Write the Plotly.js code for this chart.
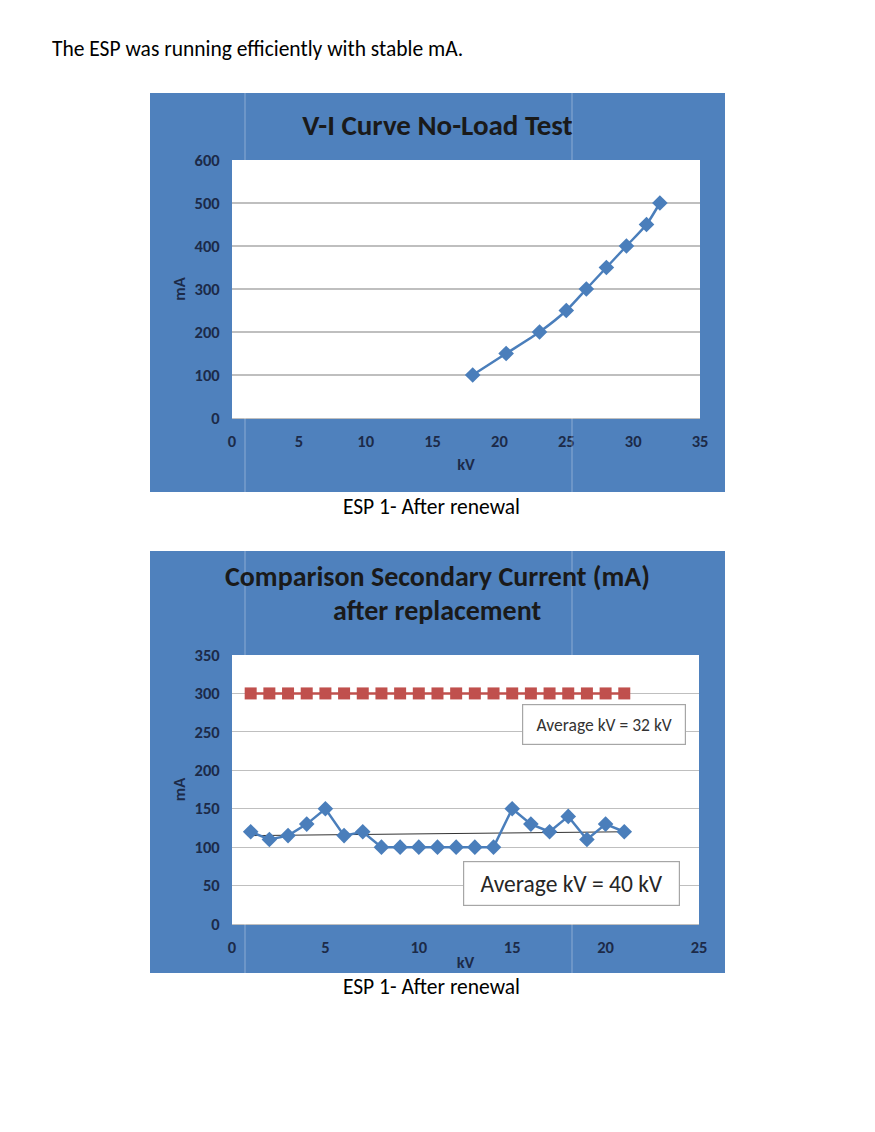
<!DOCTYPE html>
<html>
<head>
<meta charset="utf-8">
<script src="https://cdn.plot.ly/plotly-3.0.1.min.js"></script>
<style>
  html, body { margin: 0; padding: 0; background: #fff; width: 875px; height: 1132px; overflow: hidden; }
  body { position: relative; font-family: Carlito, Calibri, Lato, "Open Sans", sans-serif; color: #000; }
  .txt { position: absolute; font-size: 21.5px; line-height: 26px; white-space: nowrap; }
  #intro { left: 52px; top: 36px; }
  #cap1 { left: 0; width: 863px; text-align: center; top: 494px; }
  #cap2 { left: 0; width: 863px; text-align: center; top: 974px; }
  #c1 { position: absolute; left: 150px; top: 93px; width: 575px; height: 399px; }
  #c2 { position: absolute; left: 150px; top: 551px; width: 575px; height: 422px; }
</style>
</head>
<body>
<div class="txt" id="intro">The ESP was running efficiently with stable mA.</div>
<div id="c1"></div>
<div class="txt" id="cap1">ESP 1- After renewal</div>
<div id="c2"></div>
<div class="txt" id="cap2">ESP 1- After renewal</div>
<script>
// ---- Chart 1 data: V-I Curve No-Load Test ----
const viKV = [18, 20.5, 23, 25, 26.5, 28, 29.5, 31, 32];
const viMA = [100, 150, 200, 250, 300, 350, 400, 450, 500];
const viXTicks = [0, 5, 10, 15, 20, 25, 30, 35];
const viYTicks = [0, 100, 200, 300, 400, 500, 600];

// ---- Chart 2 data: Comparison Secondary Current ----
const cmpX = [1, 2, 3, 4, 5, 6, 7, 8, 9, 10, 11, 12, 13, 14, 15, 16, 17, 18, 19, 20, 21];
const cmpAfter = [120, 110, 115, 130, 150, 115, 120, 100, 100, 100, 100, 100, 100, 100, 150, 130, 120, 140, 110, 130, 120];
const cmpBefore = [300, 300, 300, 300, 300, 300, 300, 300, 300, 300, 300, 300, 300, 300, 300, 300, 300, 300, 300, 300, 300];
const trendX = [1, 21];
const trendY = [115, 120];
const cmpXTicks = [0, 5, 10, 15, 20, 25];
const cmpYTicks = [0, 50, 100, 150, 200, 250, 300, 350];
const cmpTitleLines = ['Comparison Secondary Current (mA)', 'after replacement'];

const FONT = 'Carlito, Calibri, Lato, "Open Sans", sans-serif';
const BG = '#4f81bd';
const LINEBLUE = '#4a7ebb';
const TICKCOL = '#1c2a48';
const GRID = '#bfbfbf';

function seams(t, b, h, l, w) {
  const ph = h - t - b;
  const top = 1 + t / ph, bot = -b / ph;
  const xs = [245 - 150, 572 - 150].map(px => (px - l) / w);
  const out = [];
  xs.forEach(x => {
    out.push({type: 'line', xref: 'paper', yref: 'paper', x0: x, x1: x, y0: 1, y1: top,
              line: {color: 'rgba(255,255,255,0.35)', width: 1}});
    out.push({type: 'line', xref: 'paper', yref: 'paper', x0: x, x1: x, y0: bot, y1: 0,
              line: {color: 'rgba(255,255,255,0.35)', width: 1}});
  });
  return out;
}

function axisCommon() {
  return {
    tickfont: {family: FONT, size: 16.5, color: TICKCOL, weight: 600},
    ticks: 'outside', ticklen: 8, tickcolor: 'rgba(0,0,0,0)',
    zeroline: false, fixedrange: true
  };
}
const AXTITLEFONT = {family: FONT, size: 16.5, color: TICKCOL, weight: 'bold'};

// Chart 1
(function () {
  const W = 575, H = 399, m = {l: 82, r: 25, t: 67, b: 74, pad: 0};
  const pw = W - m.l - m.r;
  const data = [{
    x: viKV, y: viMA, type: 'scatter', mode: 'lines+markers',
    line: {color: LINEBLUE, width: 2.5, shape: 'spline', smoothing: 0.6},
    marker: {symbol: 'diamond', size: 12, color: LINEBLUE},
    hoverinfo: 'skip'
  }];
  const layout = {
    width: W, height: H, margin: m,
    paper_bgcolor: BG, plot_bgcolor: '#ffffff', showlegend: false,
    title: {text: '<b>V-I Curve No-Load Test</b>', font: {family: FONT, size: 29, color: '#1a1a1a'},
            x: 0.5, xanchor: 'center', y: 1 - 32 / H, yanchor: 'middle'},
    xaxis: Object.assign(axisCommon(), {
      range: [0, 35], tickvals: viXTicks, showgrid: false,
      showline: true, linecolor: GRID, linewidth: 1,
      title: {text: 'kV', font: AXTITLEFONT, standoff: 8}
    }),
    yaxis: Object.assign(axisCommon(), {
      range: [0, 600], tickvals: viYTicks, showgrid: true, gridcolor: GRID, gridwidth: 1.2,
      title: {text: 'mA', font: AXTITLEFONT, standoff: 4}
    }),
    shapes: seams(m.t, m.b, H, m.l, pw)
  };
  Plotly.newPlot('c1', data, layout, {displayModeBar: false, staticPlot: true});
})();

// Chart 2
(function () {
  const W = 575, H = 422, m = {l: 82, r: 26, t: 104, b: 49, pad: 0};
  const pw = W - m.l - m.r;
  const ph = H - m.t - m.b;
  const py = yPix => (H - m.b - (yPix - 551)) / ph;   // page y -> paper y
  const data = [
    {
      x: cmpX, y: cmpBefore, type: 'scatter', mode: 'lines+markers',
      line: {color: '#c0504d', width: 2.5},
      marker: {symbol: 'square', size: 12, color: '#c0504d'},
      hoverinfo: 'skip'
    },
    {
      x: trendX, y: trendY, type: 'scatter', mode: 'lines',
      line: {color: '#333333', width: 1},
      hoverinfo: 'skip'
    },
    {
      x: cmpX, y: cmpAfter, type: 'scatter', mode: 'lines+markers',
      line: {color: LINEBLUE, width: 2.5},
      marker: {symbol: 'diamond', size: 12, color: LINEBLUE},
      hoverinfo: 'skip'
    }
  ];
  const titleFont = {family: FONT, size: 28, color: '#1a1a1a', weight: 'bold'};
  const layout = {
    width: W, height: H, margin: m,
    paper_bgcolor: BG, plot_bgcolor: '#ffffff', showlegend: false,
    xaxis: Object.assign(axisCommon(), {
      range: [0, 25], tickvals: cmpXTicks, showgrid: false,
      showline: true, linecolor: GRID, linewidth: 1,
      title: {text: 'kV', font: AXTITLEFONT, standoff: 0}
    }),
    yaxis: Object.assign(axisCommon(), {
      range: [0, 350], tickvals: cmpYTicks, showgrid: true, gridcolor: GRID, gridwidth: 1.2,
      title: {text: 'mA', font: AXTITLEFONT, standoff: 4}
    }),
    annotations: [
      {
        xref: 'paper', yref: 'paper', x: (437 - 232) / pw, y: py(576.5),
        xanchor: 'center', yanchor: 'middle', showarrow: false,
        text: '<b>' + cmpTitleLines[0] + '</b>', font: titleFont
      },
      {
        xref: 'paper', yref: 'paper', x: (437 - 232) / pw, y: py(610.5),
        xanchor: 'center', yanchor: 'middle', showarrow: false,
        text: '<b>' + cmpTitleLines[1] + '</b>', font: titleFont
      },
      {
        xref: 'paper', yref: 'paper',
        x: (604 - 232) / pw, y: (924 - 724.5) / ph,
        xanchor: 'center', yanchor: 'middle', showarrow: false,
        text: 'Average kV = 32 kV', font: {family: FONT, size: 17.5, color: '#333'},
        bgcolor: '#ffffff', bordercolor: '#a6a6a6', borderwidth: 1.2, borderpad: 0,
        width: 162, height: 39
      },
      {
        xref: 'paper', yref: 'paper',
        x: (571.5 - 232) / pw, y: (924 - 883.5) / ph,
        xanchor: 'center', yanchor: 'middle', showarrow: false,
        text: 'Average kV = 40 kV', font: {family: FONT, size: 23.5, color: '#262626'},
        bgcolor: '#ffffff', bordercolor: '#a6a6a6', borderwidth: 1.2, borderpad: 0,
        width: 215, height: 43
      }
    ],
    shapes: seams(m.t, m.b, H, m.l, pw)
  };
  Plotly.newPlot('c2', data, layout, {displayModeBar: false, staticPlot: true});
})();
</script>
</body>
</html>
